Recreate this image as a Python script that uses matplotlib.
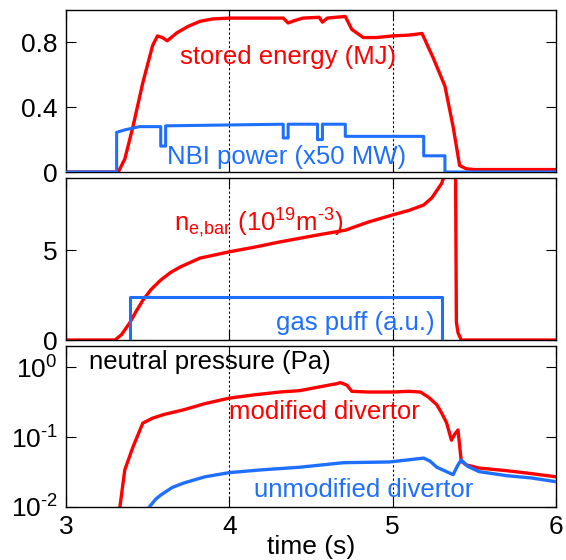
import numpy as np
import matplotlib
matplotlib.use("Agg")
import matplotlib.pyplot as plt

plt.rcParams['font.family'] = ['Liberation Sans', 'DejaVu Sans']
plt.rcParams['mathtext.fontset'] = 'custom'
plt.rcParams['mathtext.rm'] = 'Liberation Sans'
plt.rcParams['mathtext.it'] = 'Liberation Sans'

RED = "#ff0000"
BLUE = "#1f6fff"

# ── data ─────────────────────────────────────────────────────────────────
# panel 1: stored energy (MJ) and NBI power (x50 MW)
t_wdia = [3.0, 3.30, 3.32, 3.36, 3.41, 3.47, 3.53, 3.56, 3.59, 3.62, 3.68, 3.75,
          3.82, 3.90, 4.0, 4.15, 4.33, 4.36, 4.40, 4.45, 4.55, 4.57, 4.60, 4.65,
          4.71, 4.75, 4.82, 4.9, 5.0, 5.10, 5.18, 5.25, 5.32, 5.37, 5.41, 5.45,
          5.5, 5.7, 6.0]
wdia = [0.0, 0.0, 0.0, 0.08, 0.28, 0.55, 0.78, 0.84, 0.83, 0.81, 0.86, 0.90,
        0.93, 0.945, 0.95, 0.95, 0.95, 0.92, 0.935, 0.95, 0.955, 0.925, 0.95, 0.955,
        0.96, 0.88, 0.83, 0.83, 0.84, 0.845, 0.855, 0.70, 0.53, 0.28, 0.04, 0.02,
        0.015, 0.015, 0.015]

t_nbi = [3.0, 3.31, 3.31, 3.36, 3.45, 3.58, 3.58, 3.61, 3.61, 4.33, 4.33, 4.36,
         4.36, 4.54, 4.54, 4.57, 4.57, 4.71, 4.71, 5.19, 5.19, 5.32, 5.32, 6.0]
nbi = [0.0, 0.0, 0.245, 0.26, 0.28, 0.28, 0.16, 0.16, 0.285, 0.295, 0.21, 0.21,
       0.295, 0.295, 0.20, 0.20, 0.295, 0.295, 0.22, 0.22, 0.10, 0.10, 0.0, 0.0]

# panel 2: line-averaged density (1e19 m^-3) and gas puff (a.u.)
t_ne = [3.0, 3.30, 3.34, 3.39, 3.43, 3.47, 3.52, 3.58, 3.64, 3.70, 3.82, 4.0,
        4.15, 4.31, 4.43, 4.55, 4.71, 4.85, 5.0, 5.10, 5.19, 5.24, 5.27, 5.30,
        5.33, 5.385, 5.39, 5.40, 5.42, 6.0]
ne = [0.0, 0.0, 0.3, 0.95, 1.6, 2.2, 2.8, 3.33, 3.75, 4.06, 4.55, 4.9,
      5.15, 5.45, 5.65, 5.85, 6.1, 6.55, 6.95, 7.2, 7.5, 7.9, 8.3, 8.7,
      9.5, 9.5, 1.0, 0.4, 0.0, 0.0]

t_gas = [3.39, 3.39, 5.30, 5.30]
gas = [0.0, 2.4, 2.4, 0.0]

# panel 3: neutral pressure (Pa)
t_p_mod = [3.33, 3.36, 3.41, 3.47, 3.53, 3.60, 3.72, 3.85, 4.0, 4.15, 4.31, 4.43,
           4.55, 4.66, 4.68, 4.72, 4.75, 4.85, 5.0, 5.10, 5.17, 5.22, 5.27, 5.30,
           5.33, 5.36, 5.38, 5.40, 5.42, 5.45, 5.53, 5.7, 5.85, 6.0]
p_mod = [0.01, 0.034, 0.072, 0.158, 0.186, 0.21, 0.245, 0.30, 0.36, 0.40, 0.44, 0.46,
         0.52, 0.58, 0.60, 0.55, 0.45, 0.44, 0.44, 0.45, 0.44, 0.37, 0.29, 0.22,
         0.16, 0.09, 0.11, 0.126, 0.045, 0.04, 0.036, 0.033, 0.030, 0.027]

t_p_unmod = [3.51, 3.55, 3.58, 3.65, 3.72, 3.85, 4.0, 4.2, 4.43, 4.70, 4.98, 5.19,
             5.23, 5.27, 5.33, 5.37, 5.40, 5.42, 5.46, 5.53, 5.7, 5.85, 6.0]
p_unmod = [0.01, 0.013, 0.0148, 0.019, 0.022, 0.027, 0.031, 0.034, 0.037, 0.043, 0.044, 0.05,
           0.045, 0.037, 0.032, 0.029, 0.04, 0.047, 0.038, 0.032, 0.028, 0.026, 0.023]

log_ticks = [0.01, 0.1, 1]
log_labels = [r"$\mathregular{10^{\text{-}2}}$", r"$\mathregular{10^{\text{-}1}}$",
              r"$\mathregular{10^{0}}$"]

FS_TICK = 19
FS = 18.5

fig = plt.figure(figsize=(5.66, 5.60), dpi=100)
left, width = 66 / 566, 490 / 566
ax1 = fig.add_axes([left, 1 - 172 / 560, width, 162 / 560])
ax2 = fig.add_axes([left, 1 - 340 / 560, width, 162 / 560])
ax3 = fig.add_axes([left, 1 - 507 / 560, width, 161 / 560])

for ax in (ax1, ax2, ax3):
    ax.set_xlim(3, 6)
    ax.set_xticks([3, 4, 5, 6])
    ax.tick_params(direction="in", length=7, width=0.8, top=True, right=True,
                   labelsize=FS_TICK, pad=6)
    for x in (4, 5):
        ax.axvline(x, color="k", linestyle=(0, (2, 2)), linewidth=0.8, zorder=0)
    for s in ax.spines.values():
        s.set_linewidth(1.0)

# ── panel 1 ──
ax1.plot(t_wdia, wdia, color=RED, lw=2.4, zorder=2)
ax1.plot(t_nbi, nbi, color=BLUE, lw=2.2, zorder=3)
ax1.set_ylim(0, 1.0)
ax1.set_yticks([0, 0.4, 0.8])
ax1.set_yticklabels(["0", "0.4", "0.8"])
ax1.tick_params(labelbottom=False)
ax1.text(4.36, 0.71, "stored energy (MJ)", color=RED, fontsize=FS, ha="center", va="center")
ax1.text(4.35, 0.09, "NBI power (x50 MW)", color=BLUE, fontsize=FS, ha="center", va="center")

# ── panel 2 ──
ax2.plot(t_ne, ne, color=RED, lw=2.4, zorder=2)
ax2.plot(t_gas, gas, color=BLUE, lw=2.2, zorder=3)
ax2.set_ylim(0, 9)
ax2.set_yticks([0, 5])
ax2.tick_params(labelbottom=False)
ax2.text(4.18, 6.5, r"$\mathregular{n_{\text{e,bar}}\ (10^{19}m^{\text{-}3})}$", color=RED,
         fontsize=FS, ha="center", va="center")
ax2.text(4.77, 0.95, "gas puff (a.u.)", color=BLUE, fontsize=FS, ha="center", va="center")

# ── panel 3 ──
ax3.plot(t_p_mod, p_mod, color=RED, lw=2.4, zorder=2)
ax3.plot(t_p_unmod, p_unmod, color=BLUE, lw=2.4, zorder=3)
ax3.set_yscale("log")
ax3.set_ylim(0.01, 2.0)
ax3.set_yticks(log_ticks)
ax3.set_yticklabels(log_labels)
ax3.yaxis.set_minor_locator(matplotlib.ticker.NullLocator())
ax3.text(3.88, 1.17, "neutral pressure (Pa)", color="k", fontsize=FS, ha="center", va="center")
ax3.text(4.58, 0.23, "modified divertor", color=RED, fontsize=FS, ha="center", va="center")
ax3.text(4.82, 0.0175, "unmodified divertor", color=BLUE, fontsize=FS, ha="center", va="center")
ax3.set_xticklabels(["3", "4", "5", "6"])
ax3.set_xlabel("time (s)", fontsize=FS_TICK, labelpad=-3)

fig.savefig("out.png", dpi=100)
